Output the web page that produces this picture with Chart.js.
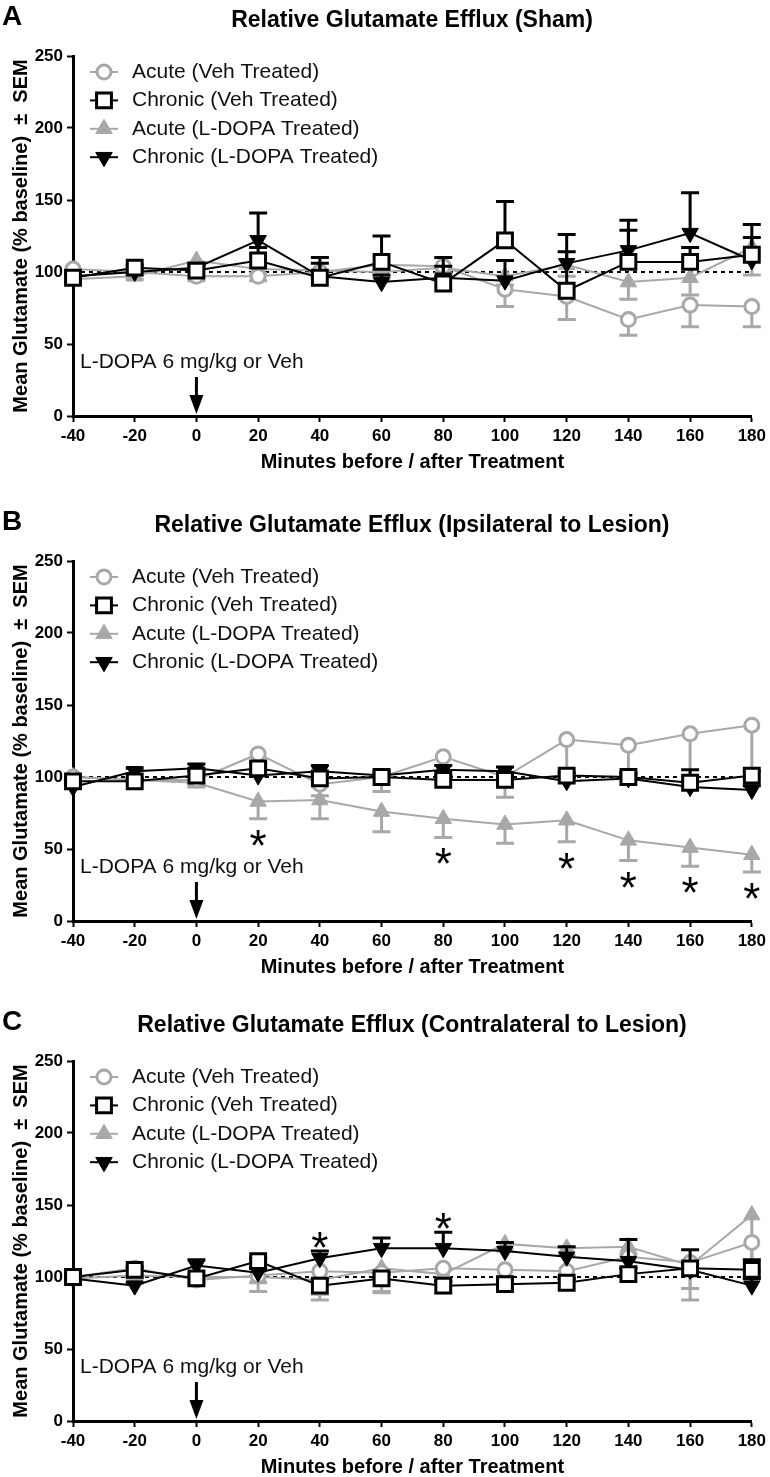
<!DOCTYPE html>
<html>
<head>
<meta charset="utf-8">
<script src="https://cdn.jsdelivr.net/npm/chart.js@4"></script>
<style>
  body { margin: 0; background: #fff; }
  canvas { position: absolute; left: 0; }
</style>
</head>
<body>
<canvas id="panelA" width="770" height="472" style="top:0px"></canvas>
<canvas id="panelB" width="770" height="472" style="top:505px"></canvas>
<canvas id="panelC" width="770" height="472" style="top:1005px"></canvas>
<script>
// time points (minutes relative to treatment)
var minutes = [-40, -20, 0, 20, 40, 60, 80, 100, 120, 140, 160, 180];
var seriesNames = ["Acute (Veh Treated)", "Chronic (Veh Treated)", "Acute (L-DOPA Treated)", "Chronic (L-DOPA Treated)"];
var baselineLevel = 100;

// A - sham
var shamAcuteVeh      = [102, 100, 97, 97, 100, 105, 104, 88, 83, 67, 77, 76];
var shamAcuteVehSem   = [2, 2, 3, 3, 3, 4, 5, 12, 16, 11, 15, 14];
var shamChronicVeh    = [96, 103, 101, 108, 96, 107, 92, 122, 87, 107, 107, 112];
var shamChronicVehSem = [2, 2, 3, 9, 10, 18, 18, 27, 39, 22, 10, 21];
var shamAcuteLD       = [95, 97, 108, 102, 101, 100, 103, 97, 105, 93, 96, 117];
var shamAcuteLDSem    = [2, 2, 3, 3, 4, 5, 5, 6, 8, 12, 12, 19];
var shamChronicLD     = [97, 100, 103, 122, 97, 93, 96, 94, 106, 115, 127, 108];
var shamChronicLDSem  = [2, 2, 3, 19, 13, 5, 8, 14, 8, 21, 28, 16];

// B - ipsilateral to lesion
var ipsiAcuteVeh      = [100, 98, 98, 116, 95, 100, 114, 100, 126, 122, 130, 136];
var ipsiAcuteVehSem   = [3, 2, 3, 8, 8, 10, 10, 14, 26, 22, 30, 36];
var ipsiChronicVeh    = [97, 97, 101, 106, 99, 100, 98, 98, 101, 100, 96, 101];
var ipsiChronicVehSem = [2, 2, 3, 4, 3, 2, 3, 3, 2, 3, 9, 3];
var ipsiAcuteLD       = [100, 98, 96, 83, 84, 76, 71, 67, 70, 56, 51, 46];
var ipsiAcuteLDSem    = [2, 2, 3, 12, 13, 14, 13, 13, 15, 14, 13, 12];
var ipsiChronicLD     = [93, 104, 106, 101, 104, 101, 105, 104, 97, 99, 93, 91];
var ipsiChronicLDSem  = [2, 2, 3, 3, 4, 3, 3, 3, 3, 3, 4, 3];
var ipsiStars = [20, 80, 120, 140, 160, 180];

// C - contralateral to lesion
var contraAcuteVeh      = [100, 106, 98, 101, 104, 103, 106, 105, 104, 114, 110, 124];
var contraAcuteVehSem   = [2, 3, 3, 5, 16, 13, 17, 5, 5, 8, 18, 20];
var contraChronicVeh    = [100, 105, 99, 111, 94, 99, 94, 95, 96, 102, 106, 105];
var contraChronicVehSem = [2, 2, 2, 2, 4, 3, 3, 3, 3, 4, 3, 7];
var contraAcuteLD       = [99, 101, 100, 100, 98, 106, 102, 123, 120, 121, 108, 143];
var contraAcuteLDSem    = [2, 2, 3, 10, 14, 17, 5, 5, 5, 5, 24, 38];
var contraChronicLD     = [99, 94, 108, 103, 113, 120, 120, 118, 114, 111, 105, 94];
var contraChronicLDSem  = [2, 2, 4, 3, 5, 7, 11, 6, 7, 15, 14, 5];
var contraStars = [40, 80];

var FONT = '"Liberation Sans", Arial, Helvetica, sans-serif';
var GRAY = '#a8a8a8';

var looks = [
  { color: GRAY,   style: 'circle',   radius: 7,    fill: '#fff', bw: 3, rot: 0,   dir: -1 },
  { color: '#000', style: 'rect',     radius: 10.5, fill: '#fff', bw: 3, rot: 0,   dir: 1 },
  { color: GRAY,   style: 'triangle', radius: 9.5,  fill: GRAY,   bw: 1, rot: 0,   dir: -1 },
  { color: '#000', style: 'triangle', radius: 9.5,  fill: '#000', bw: 1, rot: 180, dir: 1 }
];

function series(k, values, sem) {
  var lk = looks[k];
  return {
    label: seriesNames[k],
    data: values.map(function (v, i) { return { x: minutes[i], y: v }; }),
    sem: sem, semDir: lk.dir,
    borderColor: lk.color, borderWidth: 2,
    pointStyle: lk.style, pointRadius: lk.radius, pointRotation: lk.rot,
    pointBackgroundColor: lk.fill, pointBorderColor: lk.color, pointBorderWidth: lk.bw,
    pointHoverRadius: lk.radius,
    tension: 0, clip: false
  };
}

var decor = {
  id: 'decor',
  beforeDatasetDraw: function (chart, args) {
    var ds = chart.data.datasets[args.index];
    if (!ds.sem) return;
    var ctx = chart.ctx, xs = chart.scales.x, ys = chart.scales.y;
    ctx.save();
    ctx.strokeStyle = ds.borderColor;
    ctx.lineWidth = 3;
    ds.data.forEach(function (p, i) {
      var x = xs.getPixelForValue(p.x);
      var y0 = ys.getPixelForValue(p.y);
      var y1 = ys.getPixelForValue(p.y + ds.semDir * ds.sem[i]);
      ctx.beginPath();
      ctx.moveTo(x, y0); ctx.lineTo(x, y1);
      ctx.moveTo(x - 9, y1); ctx.lineTo(x + 9, y1);
      ctx.stroke();
    });
    ctx.restore();
  },
  afterDraw: function (chart, args, opts) {
    var ctx = chart.ctx, xs = chart.scales.x, ys = chart.scales.y;
    ctx.save();
    ctx.fillStyle = '#000';
    ctx.textBaseline = 'alphabetic';
    ctx.font = 'bold 28px ' + FONT;
    ctx.textAlign = 'left';
    ctx.fillText(opts.letter, 2, 25);
    ctx.font = 'bold 23px ' + FONT;
    ctx.textAlign = 'center';
    ctx.fillText(opts.title, 412, 27);

    // legend
    for (var i = 0; i < 4; i++) {
      var lk = looks[i], y = 72 + i * 28.4;
      ctx.strokeStyle = lk.color;
      ctx.lineWidth = 2;
      ctx.beginPath(); ctx.moveTo(90, y); ctx.lineTo(118, y); ctx.stroke();
      ctx.fillStyle = lk.fill;
      ctx.lineWidth = lk.bw;
      Chart.helpers.drawPoint(ctx, { pointStyle: lk.style, radius: lk.radius, rotation: lk.rot, borderWidth: lk.bw }, 104, y);
      ctx.fillStyle = '#111';
      ctx.font = '21px ' + FONT;
      ctx.textAlign = 'left';
      ctx.textBaseline = 'middle';
      ctx.fillText(seriesNames[i], 132, y);
    }

    // treatment annotation
    ctx.textBaseline = 'alphabetic';
    ctx.fillStyle = '#111';
    ctx.font = '21px ' + FONT;
    ctx.fillText('L-DOPA 6 mg/kg or Veh', 80, 368);
    var ax = xs.getPixelForValue(0);
    ctx.strokeStyle = '#000';
    ctx.lineWidth = 3;
    ctx.beginPath(); ctx.moveTo(ax, 377); ctx.lineTo(ax, 398); ctx.stroke();
    ctx.fillStyle = '#000';
    ctx.beginPath(); ctx.moveTo(ax - 7, 395); ctx.lineTo(ax + 7, 395); ctx.lineTo(ax, 414); ctx.closePath(); ctx.fill();

    // significance marks
    if (opts.stars) {
      var ds = chart.data.datasets[opts.starSeries];
      ctx.font = '44px ' + FONT;
      ctx.textAlign = 'center';
      opts.stars.forEach(function (t) {
        var i = minutes.indexOf(t);
        var p = ds.data[i];
        var end = ys.getPixelForValue(p.y + ds.semDir * ds.sem[i]);
        var cy = end - ds.semDir * opts.starGap;
        ctx.fillText('*', xs.getPixelForValue(t), cy + 25);
      });
    }
    ctx.restore();
  }
};

function makePanel(id, letter, title, av, avs, cv, cvs, al, als, cl, cls, stars, starSeries, starGap) {
  var ctx = document.getElementById(id).getContext('2d');
  return new Chart(ctx, {
    type: 'line',
    data: {
      datasets: [
        series(1, cv, cvs),
        series(3, cl, cls),
        series(0, av, avs),
        series(2, al, als),
        {
          label: 'baseline',
          data: [{ x: minutes[0], y: baselineLevel }, { x: minutes[minutes.length - 1], y: baselineLevel }],
          borderColor: '#000', borderWidth: 2, borderDash: [4, 4], pointRadius: 0
        }
      ]
    },
    options: {
      responsive: false,
      animation: false,
      events: [],
      layout: { padding: { top: 56, left: 0, right: 15, bottom: 0 } },
      plugins: {
        legend: { display: false },
        tooltip: { enabled: false },
        decor: { letter: letter, title: title, stars: stars, starSeries: starSeries, starGap: starGap }
      },
      scales: {
        x: {
          type: 'linear', min: -40, max: 180,
          afterFit: function (s) { s.height = 56; },
          ticks: { stepSize: 20, color: '#000', padding: 4, font: { family: FONT, size: 17, weight: 'bold' } },
          grid: { drawOnChartArea: false, drawTicks: true, tickLength: 6, tickWidth: 2, tickColor: '#000' },
          border: { display: true, color: '#000', width: 3 },
          title: { display: true, text: 'Minutes before / after Treatment', color: '#000', padding: 0,
                   font: { family: FONT, size: 20, weight: 'bold', lineHeight: 1 } }
        },
        y: {
          min: 0, max: 250,
          afterFit: function (s) { s.width = 73; },
          ticks: { stepSize: 50, color: '#000', padding: 4, font: { family: FONT, size: 17, weight: 'bold' } },
          grid: { drawOnChartArea: false, drawTicks: true, tickLength: 6, tickWidth: 2, tickColor: '#000' },
          border: { display: true, color: '#000', width: 3 },
          title: { display: true, text: 'Mean Glutamate (% baseline)  \u00b1  SEM', color: '#000', padding: { top: 11, bottom: 0 },
                   font: { family: FONT, size: 20, weight: 'bold', lineHeight: 1 } }
        }
      }
    },
    plugins: [decor]
  });
}

makePanel('panelA', 'A', 'Relative Glutamate Efflux (Sham)',
  shamAcuteVeh, shamAcuteVehSem, shamChronicVeh, shamChronicVehSem,
  shamAcuteLD, shamAcuteLDSem, shamChronicLD, shamChronicLDSem, null, 0, 0);
makePanel('panelB', 'B', 'Relative Glutamate Efflux (Ipsilateral to Lesion)',
  ipsiAcuteVeh, ipsiAcuteVehSem, ipsiChronicVeh, ipsiChronicVehSem,
  ipsiAcuteLD, ipsiAcuteLDSem, ipsiChronicLD, ipsiChronicLDSem, ipsiStars, 3, 17);
makePanel('panelC', 'C', 'Relative Glutamate Efflux (Contralateral to Lesion)',
  contraAcuteVeh, contraAcuteVehSem, contraChronicVeh, contraChronicVehSem,
  contraAcuteLD, contraAcuteLDSem, contraChronicLD, contraChronicLDSem, contraStars, 1, 13);
</script>
</body>
</html>
